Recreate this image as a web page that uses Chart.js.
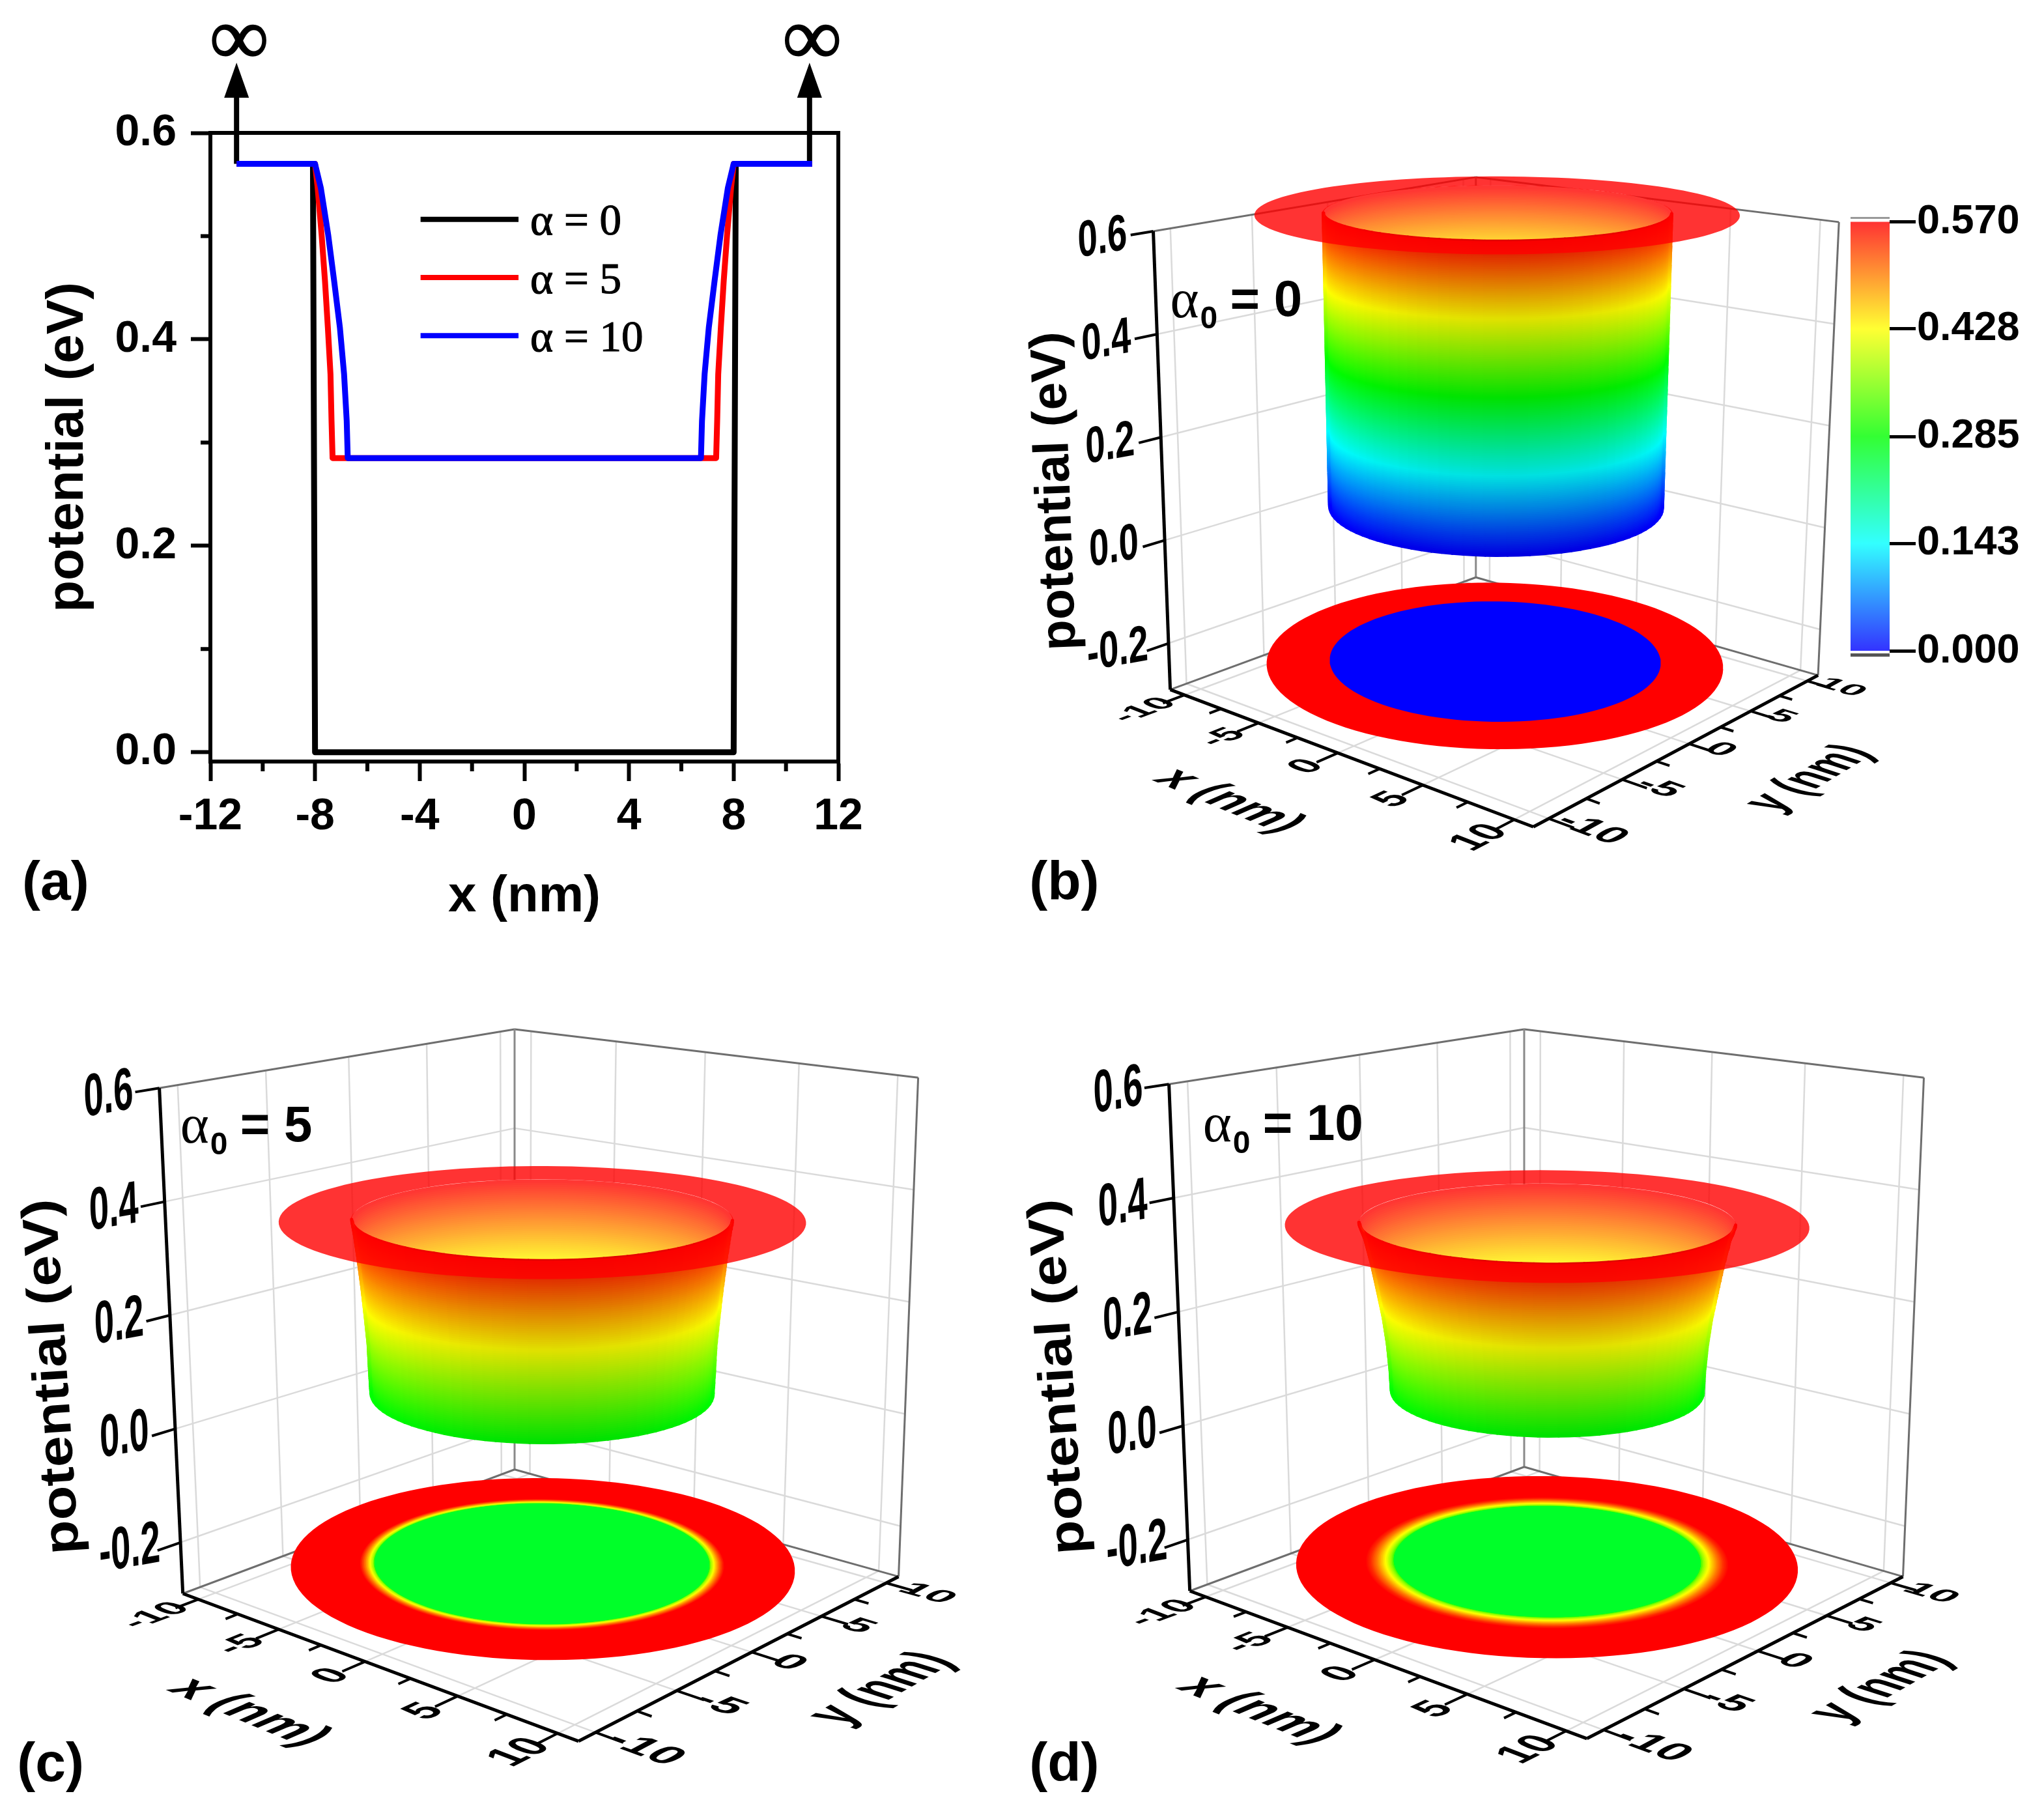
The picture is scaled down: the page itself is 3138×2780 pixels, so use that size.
<!DOCTYPE html>
<html>
<head>
<meta charset="utf-8">
<title>potential</title>
<script src="https://cdn.jsdelivr.net/npm/chart.js@4"></script>
<style>
  html, body { margin: 0; background: #fff; }
  canvas { position: absolute; left: 0; top: 0; }
</style>
</head>
<body>
<canvas id="chart-a" width="3138" height="2780"></canvas>
<canvas id="chart-b" width="3138" height="2780"></canvas>
<canvas id="chart-c" width="3138" height="2780"></canvas>
<canvas id="chart-d" width="3138" height="2780"></canvas>
<canvas id="chart-bar" width="3138" height="2780"></canvas>
<script>
'use strict'

// values
const xTicksA = [-12, -8, -4, 0, 4, 8, 12];
const xMinorA = [-10, -6, -2, 2, 6, 10];
const yTicksA = [0, 0.2, 0.4, 0.6];
const yMinorA = [0.1, 0.3, 0.5];
const wellEdge = 11;
const arrowX = [-11, 10.9];
const potentialTop = 0.57;
const arrowBase = 0.634;
const arrowTip = 0.668;

// wall of the well: radius (nm) at each potential (eV)
const wallV = [0.57, 0.5468, 0.5016, 0.4565, 0.4114, 0.3662, 0.3211, 0.285];
const radius5 = [8.0, 7.9, 7.75, 7.62, 7.51, 7.41, 7.37, 7.33];
const radius10 = [8.0, 7.78, 7.5, 7.27, 7.05, 6.89, 6.79, 6.75];
const wall0V = [0.57, 0];
const radius0 = [8.08, 8.0];

const legendLabels = ['α = 0', 'α = 5', 'α = 10'];
const lineColors = ['#000000', '#ff0000', '#0000ff'];

const barTicks = [0, 0.143, 0.285, 0.428, 0.57];
const barColors = [[0, 0, 255], [0, 255, 255], [0, 255, 0], [255, 255, 0], [255, 0, 0]];

const xyTicks = [-10, -5, 0, 5, 10];
const xyMinor = [-7.5, -2.5, 2.5, 7.5];
const zTicks = [-0.2, 0, 0.2, 0.4, 0.6];

const S = 3138 / 1565;
const SANS = '"Liberation Sans", Arial, sans-serif';
const SERIF = '"Liberation Serif", "Times New Roman", serif';

// cube corners on the page, order: left, front, right, back
const panels = [
  {
    id: 'chart-b', tag: '(b)', tagAt: [813, 677], radius: radius0, levels: wall0V, zOff: 0, floorZ: -0.24,
    bottom: [[896, 528], [1174, 633], [1392, 517], [1130, 442]],
    top: [[883, 177], [1178, 225], [1408, 170], [1130, 135.6]],
    alpha: '0', alphaAt: [896, 232], title: [[813, 498], [804, 254]],
    yTitle: [17, 0.4], zScale: 1.15, yTickGap: 1.4, yTickShift: 0.38, dx: -3.5, lift: 0.06, gain: 1, wallScale: 0.97
  },
  {
    id: 'chart-c', tag: '(c)', tagAt: [38, 1352], radius: radius5, levels: wallV, zOff: 0.285, floorZ: -0.245,
    bottom: [[140, 1220], [443, 1333], [688, 1207], [394, 1125]],
    top: [[122, 833], [443.5, 882], [703, 825], [394, 788]],
    alpha: '5', alphaAt: [138, 864], title: [[50, 1190], [32, 918]],
    yTitle: [16.8, 0.4], zScale: 1.35, yTickGap: 1.7, yTickShift: 0.1, dx: -0.5, lift: 0.055, gain: 1.077, wallScale: 0.985
  },
  {
    id: 'chart-d', tag: '(d)', tagAt: [813, 1352], radius: radius10, levels: wallV, zOff: 0.285, floorZ: -0.245,
    bottom: [[911, 1218], [1215, 1331], [1457, 1207], [1167, 1123]],
    top: [[895, 830], [1215.5, 880], [1473, 825], [1167, 788]],
    alpha: '10', alphaAt: [921, 863], title: [[820, 1190], [802, 918]],
    yTitle: [16.7, 0.35], zScale: 1.35, yTickGap: 1.7, yTickShift: 0.15, dx: -3, lift: 0.055, gain: 1.042, wallScale: 0.98
  }
];

const Z_BOTTOM = -0.29;
const Z_TOP = 0.6;
const BOX = 11;
const FLOOR_SCALE = 0.984;
const DISC_SCALE = 0.99;

function colorAt(v) {
  let i = 0;
  while (i < barTicks.length - 2 && v > barTicks[i + 1]) i++;
  let f = (v - barTicks[i]) / (barTicks[i + 1] - barTicks[i]);
  f = Math.max(0, Math.min(1, f));
  return barColors[i].map((a, k) => Math.round(a + (barColors[i + 1][k] - a) * f));
}

function rgb(c) {
  return `rgb(${c[0]},${c[1]},${c[2]})`;
}

// radius on the wall at potential v
function radiusAt(panel, v) {
  let lv = panel.levels, r = panel.radius;
  for (let i = 0; i < lv.length - 1; i++) {
    if (v <= lv[i] && v >= lv[i + 1]) {
      return r[i] + (r[i + 1] - r[i]) * (lv[i] - v) / (lv[i] - lv[i + 1]);
    }
  }
  return r[r.length - 1];
}

// potential on the wall at radius rr
function valueAt(panel, rr) {
  let lv = panel.levels, r = panel.radius;
  for (let i = 0; i < r.length - 1; i++) {
    if (rr <= r[i] && rr >= r[i + 1]) {
      return lv[i] + (lv[i + 1] - lv[i]) * (r[i] - rr) / (r[i] - r[i + 1]);
    }
  }
  return lv[lv.length - 1];
}

// height of a surface point inside the cube
function surfaceZ(panel, v) {
  return (v - panel.zOff) * panel.gain + panel.lift;
}

// world (nm, nm, eV) to page pixels
function project(panel, x, y, z) {
  let t = (z - Z_BOTTOM) / (Z_TOP - Z_BOTTOM);
  let q = panel.bottom.map((b, i) => [
    (b[0] + (panel.top[i][0] - b[0]) * t) * S,
    (b[1] + (panel.top[i][1] - b[1]) * t) * S
  ]);
  let u = (x + BOX) / (2 * BOX), v = (y + BOX) / (2 * BOX);
  let dx1 = q[1][0] - q[2][0], dx2 = q[3][0] - q[2][0], sx = q[0][0] - q[1][0] + q[2][0] - q[3][0];
  let dy1 = q[1][1] - q[2][1], dy2 = q[3][1] - q[2][1], sy = q[0][1] - q[1][1] + q[2][1] - q[3][1];
  let den = dx1 * dy2 - dx2 * dy1;
  let g = (sx * dy2 - dx2 * sy) / den, h = (dx1 * sy - sx * dy1) / den;
  let w = g * u + h * v + 1;
  return {
    x: ((q[1][0] - q[0][0] + g * q[1][0]) * u + (q[3][0] - q[0][0] + h * q[3][0]) * v + q[0][0]) / w,
    y: ((q[1][1] - q[0][1] + g * q[1][1]) * u + (q[3][1] - q[0][1] + h * q[3][1]) * v + q[0][1]) / w
  };
}

function ring(panel, r, z, from, to, n) {
  let pts = [];
  for (let i = 0; i <= n; i++) {
    let a = (from + (to - from) * i / n) * Math.PI / 180;
    let p = project(panel, r * Math.cos(a), r * Math.sin(a), z);
    pts.push({ x: p.x + panel.dx * S, y: p.y });
  }
  return pts;
}

// angles (deg) of the left and right tips of a ring on the page
function tips(panel, r, z) {
  let left = 225, right = 45, minX = Infinity, maxX = -Infinity;
  for (let a = 180; a <= 300; a++) {
    let p = project(panel, r * Math.cos(a * Math.PI / 180), r * Math.sin(a * Math.PI / 180), z);
    if (p.x < minX) { minX = p.x; left = a; }
  }
  for (let a = -30; a <= 90; a++) {
    let p = project(panel, r * Math.cos(a * Math.PI / 180), r * Math.sin(a * Math.PI / 180), z);
    if (p.x > maxX) { maxX = p.x; right = a; }
  }
  return [left, right];
}

function stroke(pts, color, width, extra) {
  return Object.assign({
    data: pts, showLine: true, pointRadius: 0, borderColor: color, borderWidth: width,
    borderCapStyle: 'butt', borderJoinStyle: 'round', fill: false
  }, extra || {});
}

function filled(pts, color) {
  return {
    data: pts, showLine: true, pointRadius: 0, borderWidth: 0, borderColor: 'rgba(0,0,0,0)',
    backgroundColor: color, fill: 'shape'
  };
}

function panelDatasets(panel) {
  let out = [];
  let seg = (a, b, color, width) => out.push(stroke([
    project(panel, a[0], a[1], a[2]), project(panel, b[0], b[1], b[2])], color, width));
  const GRID = '#dadada', EDGE = '#6e6e6e';

  // back walls and floor grid
  for (let v of xyTicks) {
    seg([-BOX, v, Z_BOTTOM], [-BOX, v, Z_TOP], GRID, 2.5);
    seg([v, BOX, Z_BOTTOM], [v, BOX, Z_TOP], GRID, 2.5);
    seg([v, -BOX, Z_BOTTOM], [v, BOX, Z_BOTTOM], GRID, 2.5);
    seg([-BOX, v, Z_BOTTOM], [BOX, v, Z_BOTTOM], GRID, 2.5);
  }
  for (let z of zTicks) {
    if (z === 0.6) continue;
    seg([-BOX, -BOX, z], [-BOX, BOX, z], GRID, 2.5);
    seg([-BOX, BOX, z], [BOX, BOX, z], GRID, 2.5);
  }
  seg([-BOX, -BOX, Z_TOP], [-BOX, BOX, Z_TOP], EDGE, 3);
  seg([-BOX, BOX, Z_TOP], [BOX, BOX, Z_TOP], EDGE, 3);
  seg([-BOX, BOX, Z_BOTTOM], [-BOX, BOX, Z_TOP], '#8a8a8a', 3);
  seg([BOX, BOX, Z_BOTTOM], [BOX, BOX, Z_TOP], EDGE, 3);
  seg([-BOX, -BOX, Z_BOTTOM], [-BOX, BOX, Z_BOTTOM], EDGE, 3);
  seg([-BOX, BOX, Z_BOTTOM], [BOX, BOX, Z_BOTTOM], EDGE, 3);

  // flat map on the floor
  let rTop = panel.radius[0], rLow = panel.radius[panel.radius.length - 1];
  let lowV = panel.levels[panel.levels.length - 1];
  out.push(filled(ring(panel, BOX * FLOOR_SCALE, panel.floorZ, 0, 360, 120), 'rgb(255,0,0)'));
  if (rTop - rLow > 0.2) {
    let steps = Math.round((rTop - rLow) * 24);
    for (let i = 0; i <= steps; i++) {
      let r = rTop - (rTop - rLow) * i / steps;
      out.push(filled(ring(panel, r * FLOOR_SCALE, panel.floorZ, 0, 360, 120), rgb(colorAt(valueAt(panel, r)))));
    }
  }
  out.push(filled(ring(panel, rLow * FLOOR_SCALE, panel.floorZ, 0, 360, 120), rgb(colorAt(lowV === 0 ? 0 : 0.262))));

  // wall, far side seen through the opening, then the near side
  let nRings = Math.round((potentialTop - lowV) * 300);
  for (let i = nRings; i >= 0; i--) {
    let v = potentialTop - 0.003 - (potentialTop - 0.003 - lowV) * i / nRings;
    let pale = colorAt(v).map(c => Math.round(c * 0.8 + 255 * 0.2));
    let r = radiusAt(panel, v) * panel.wallScale, z = surfaceZ(panel, v);
    let t = tips(panel, r, z);
    out.push(stroke(ring(panel, r, z, t[1], t[0], 60), rgb(pale), 5));
  }
  for (let i = 0; i <= nRings; i++) {
    let v = potentialTop - (potentialTop - lowV) * i / nRings;
    let base = colorAt(v);
    let r = radiusAt(panel, v) * panel.wallScale, z = surfaceZ(panel, v);
    let t = tips(panel, r, z);
    let nPts = 48, from = t[0], to = t[1] + 360;
    let shade = [];
    for (let k = 0; k <= nPts; k++) {
      let a = (from + (to - from) * k / nPts - 315) * Math.PI / 180;
      let f = 1 - 0.12 * Math.pow(Math.max(0, Math.cos(a)), 2);
      shade.push(rgb(base.map(c => Math.round(c * f))));
    }
    out.push(stroke(ring(panel, r, z, from, to, nPts), shade[0], 5, {
      borderCapStyle: 'round',
      segment: { borderColor: ctx => shade[ctx.p0DataIndex] }
    }));
  }

  // see-through flat rim at the top of the well
  let zRim = surfaceZ(panel, potentialTop);
  let rim = ring(panel, BOX * DISC_SCALE, zRim, 0, 360, 120).concat(ring(panel, rTop * panel.wallScale, zRim, 360, 0, 120));
  out.push(filled(rim, 'rgba(255,0,0,0.8)'));

  // axes
  seg([-BOX, -BOX, Z_BOTTOM], [-BOX, -BOX, Z_TOP], '#000', 5);
  seg([-BOX, -BOX, Z_BOTTOM], [BOX, -BOX, Z_BOTTOM], '#000', 5);
  seg([BOX, -BOX, Z_BOTTOM], [BOX, BOX, Z_BOTTOM], '#000', 5);
  for (let v of xyTicks) {
    seg([v, -BOX, Z_BOTTOM], [v, -BOX - 1.3, Z_BOTTOM], '#000', 4);
    seg([BOX, v, Z_BOTTOM], [BOX + 1.3, v, Z_BOTTOM], '#000', 4);
  }
  for (let v of xyMinor) {
    seg([v, -BOX, Z_BOTTOM], [v, -BOX - 0.7, Z_BOTTOM], '#000', 4);
    seg([BOX, v, Z_BOTTOM], [BOX + 0.7, v, Z_BOTTOM], '#000', 4);
  }
  for (let z of zTicks) seg([-BOX, -BOX, z], [-BOX, -BOX - 1.3, z], '#000', 4);

  return out.reverse(); // chart.js paints the first dataset last
}

function planeText(ctx, panel, text, at, base, down, em) {
  let p = project(panel, at[0], at[1], Z_BOTTOM);
  let b0 = project(panel, at[0] + base[0] / 2, at[1] + base[1] / 2, Z_BOTTOM);
  let b1 = project(panel, at[0] - base[0] / 2, at[1] - base[1] / 2, Z_BOTTOM);
  let d0 = project(panel, at[0] + down[0] / 2, at[1] + down[1] / 2, Z_BOTTOM);
  let d1 = project(panel, at[0] - down[0] / 2, at[1] - down[1] / 2, Z_BOTTOM);
  let k = em / 100;
  ctx.save();
  ctx.setTransform((b0.x - b1.x) * k, (b0.y - b1.y) * k, (d0.x - d1.x) * k, (d0.y - d1.y) * k, p.x, p.y);
  ctx.font = 'bold 100px ' + SANS;
  ctx.textAlign = 'center';
  ctx.textBaseline = 'middle';
  ctx.fillStyle = '#000';
  ctx.fillText(text, 0, 0);
  ctx.restore();
}

function panelText(panel) {
  return {
    id: 'panelText',
    afterDatasetsDraw(chart) {
      let ctx = chart.ctx;
      // x and y tick labels lie flat on the floor plane
      for (let v of xyTicks) {
        let extra = (String(v).length - 1) * 0.25;
        planeText(ctx, panel, String(v), [v, -BOX - 1.9 - extra], [0, 1], [1, 0], 2.1);
        planeText(ctx, panel, String(v), [BOX + panel.yTickGap + extra, v + panel.yTickShift], [1, 0], [0, -1], 2.1);
      }
      planeText(ctx, panel, 'x (nm)', [0.05, -17.4], [1, 0], [0, -1], 2.6);
      planeText(ctx, panel, 'y (nm)', panel.yTitle, [0, 1], [1, 0], 2.7);

      ctx.fillStyle = '#000';
      ctx.textAlign = 'center';
      ctx.textBaseline = 'middle';
      // potential ticks
      for (let z of zTicks) {
        let p = project(panel, -BOX, -BOX, z);
        ctx.save();
        ctx.setTransform(0.8, -0.14, 0.04, panel.zScale, p.x - 78, p.y + 12);
        ctx.font = 'bold 68px ' + SANS;
        ctx.fillText(z.toFixed(1), 0, 0);
        ctx.restore();
      }
      // rotated axis title
      let a = panel.title[0], b = panel.title[1];
      let len = Math.hypot(b[0] - a[0], b[1] - a[1]);
      ctx.save();
      ctx.font = 'bold 100px ' + SANS;
      let k = len * S / ctx.measureText('potential (eV)').width;
      let ux = (b[0] - a[0]) / len, uy = (b[1] - a[1]) / len;
      ctx.setTransform(ux * k, uy * k, -uy * 0.76, ux * 0.76, (a[0] + b[0]) / 2 * S, (a[1] + b[1]) / 2 * S);
      ctx.fillText('potential (eV)', 0, 0);
      ctx.restore();

      // panel tag
      ctx.font = 'bold 84px ' + SANS;
      ctx.textAlign = 'left';
      ctx.fillText(panel.tag, panel.tagAt[0] * S - 50, panel.tagAt[1] * S);

      // alpha label
      let ax = panel.alphaAt[0] * S, ay = panel.alphaAt[1] * S;
      ctx.font = '84px ' + SERIF;
      ctx.fillText('α', ax, ay);
      ctx.font = 'bold 48px ' + SANS;
      ctx.fillText('0', ax + 46, ay + 26);
      ctx.font = 'bold 78px ' + SANS;
      ctx.fillText('= ' + panel.alpha, ax + 92, ay - 2);
    }
  };
}

function makePanel(panel) {
  new Chart(document.getElementById(panel.id), {
    type: 'scatter',
    data: { datasets: panelDatasets(panel) },
    options: {
      responsive: false, animation: false, devicePixelRatio: 1, events: [],
      layout: { padding: 0 },
      plugins: { legend: { display: false }, tooltip: { enabled: false } },
      scales: {
        x: { display: false, min: 0, max: 3138 },
        y: { display: false, min: 0, max: 2780, reverse: true }
      }
    },
    plugins: [panelText(panel)]
  });
}

// panel (a)
function mirrored(radius, levels) {
  let left = [{ x: -wellEdge, y: potentialTop }];
  let right = [{ x: wellEdge, y: potentialTop }];
  radius.forEach((r, i) => {
    left.push({ x: -r, y: levels[i] });
    right.unshift({ x: r, y: levels[i] });
  });
  return left.concat(right);
}

const arrowPlugin = {
  id: 'arrowPlugin',
  afterDatasetsDraw(chart) {
    let ctx = chart.ctx, xs = chart.scales.x, ys = chart.scales.y, area = chart.chartArea;
    ctx.save();
    ctx.strokeStyle = '#000';
    ctx.lineWidth = 6;
    ctx.strokeRect(area.left, area.top, area.right - area.left, area.bottom - area.top);
    // short ticks between the labelled ones
    for (let v of xMinorA) {
      let px = xs.getPixelForValue(v);
      ctx.beginPath(); ctx.moveTo(px, area.bottom); ctx.lineTo(px, area.bottom + 15); ctx.stroke();
    }
    for (let v of yMinorA) {
      let py = ys.getPixelForValue(v);
      ctx.beginPath(); ctx.moveTo(area.left, py); ctx.lineTo(area.left - 15, py); ctx.stroke();
    }
    // arrow heads and infinity signs
    ctx.fillStyle = '#000';
    for (let x of arrowX) {
      let px = xs.getPixelForValue(x);
      ctx.beginPath();
      ctx.moveTo(px, ys.getPixelForValue(arrowTip));
      ctx.lineTo(px - 19, ys.getPixelForValue(arrowBase));
      ctx.lineTo(px + 19, ys.getPixelForValue(arrowBase));
      ctx.closePath();
      ctx.fill();
      ctx.font = 'bold 124px ' + SERIF;
      ctx.textAlign = 'center';
      ctx.textBaseline = 'middle';
      ctx.lineWidth = 2;
      ctx.fillText('∞', px + 4, 66);
      ctx.strokeText('∞', px + 4, 66);
    }
    // legend inside the plot
    legendLabels.forEach((label, i) => {
      let py = (168 + i * 44.5) * S;
      ctx.strokeStyle = lineColors[i];
      ctx.lineWidth = 8;
      ctx.beginPath(); ctx.moveTo(322 * S, py); ctx.lineTo(397 * S, py); ctx.stroke();
      ctx.fillStyle = '#000';
      ctx.strokeStyle = '#000';
      ctx.lineWidth = 1.2;
      ctx.font = '67px ' + SERIF;
      ctx.textAlign = 'left';
      ctx.fillText(label, 406 * S, py + 6);
      ctx.strokeText(label, 406 * S, py + 6);
    });
    ctx.fillStyle = '#000';
    ctx.font = 'bold 84px ' + SANS;
    ctx.fillText('(a)', 34, 677 * S);
    ctx.restore();
  }
};

new Chart(document.getElementById('chart-a'), {
  type: 'line',
  data: {
    datasets: [
      { label: legendLabels[2], data: mirrored(radius10, wallV), borderColor: lineColors[2], order: 1 },
      { label: legendLabels[1], data: mirrored(radius5, wallV), borderColor: lineColors[1], order: 2 },
      {
        label: legendLabels[0],
        data: [
          { x: -wellEdge, y: potentialTop }, { x: -8.08, y: potentialTop }, { x: -8, y: 0 },
          { x: 8, y: 0 }, { x: 8.08, y: potentialTop }, { x: wellEdge, y: potentialTop }
        ],
        borderColor: lineColors[0], order: 3
      },
      { label: 'left arrow', data: [{ x: arrowX[0], y: potentialTop }, { x: arrowX[0], y: arrowBase }], borderColor: '#000', order: 4, borderWidth: 8 },
      { label: 'right arrow', data: [{ x: arrowX[1], y: potentialTop }, { x: arrowX[1], y: arrowBase }], borderColor: '#000', order: 4, borderWidth: 8 }
    ]
  },
  options: {
    responsive: false, animation: false, devicePixelRatio: 1, events: [],
    layout: { padding: { left: 53, top: 204, right: 3138 - 1287, bottom: 2780 - 1428 } },
    datasets: { line: { borderWidth: 9, pointRadius: 0, clip: false, tension: 0, fill: false, borderJoinStyle: 'round' } },
    plugins: { legend: { display: false }, tooltip: { enabled: false } },
    scales: {
      x: {
        type: 'linear', min: -12, max: 12,
        afterBuildTicks: s => { s.ticks = xTicksA.map(v => ({ value: v })); },
        afterFit: s => { s.height = 259; },
        grid: { drawOnChartArea: false, tickLength: 30, tickWidth: 6, tickColor: '#000' },
        border: { display: true, color: '#000', width: 6 },
        ticks: { color: '#000', padding: 14, maxRotation: 0, font: { family: SANS, weight: 'bold', size: 68 } },
        title: { display: true, text: 'x (nm)', color: '#000', font: { family: SANS, weight: 'bold', size: 78 } }
      },
      y: {
        type: 'linear', min: -0.009, max: 0.6,
        afterBuildTicks: s => { s.ticks = yTicksA.map(v => ({ value: v })); },
        afterFit: s => { s.width = 270; },
        grid: { drawOnChartArea: false, tickLength: 30, tickWidth: 6, tickColor: '#000' },
        border: { display: true, color: '#000', width: 6 },
        ticks: { color: '#000', padding: 22, callback: v => v.toFixed(1), font: { family: SANS, weight: 'bold', size: 68 } },
        title: { display: true, text: 'potential (eV)', color: '#000', font: { family: SANS, weight: 'bold', size: 80 } }
      }
    }
  },
  plugins: [arrowPlugin]
});

panels.forEach(makePanel);

// colour scale beside panel (b)
let barChart = new Chart(document.getElementById('chart-bar'), {
  type: 'bar',
  data: {
    labels: ['potential'],
    datasets: [{
      data: [[barTicks[0], barTicks[barTicks.length - 1]]],
      barPercentage: 1, categoryPercentage: 1, borderWidth: 0, borderSkipped: false,
      backgroundColor: '#888'
    }]
  },
  options: {
    responsive: false, animation: false, devicePixelRatio: 1, events: [],
    layout: { padding: { left: 2841, top: 335, right: 0, bottom: 2780 - 1005 } },
    plugins: {
      legend: { display: false }, tooltip: { enabled: false }
    },
    scales: {
      x: { display: false },
      y: {
        position: 'right', min: -0.005, max: 0.575,
        afterBuildTicks: s => { s.ticks = barTicks.map(v => ({ value: v })); },
        afterFit: s => { s.width = 3138 - 2901; },
        grid: { drawOnChartArea: false, tickLength: 40, tickWidth: 5, tickColor: '#000' },
        border: { display: false },
        ticks: { color: '#000', padding: 2, callback: v => v.toFixed(3), font: { family: SANS, weight: 'bold', size: 63 } }
      }
    }
  },
  plugins: [{
    id: 'barFrame',
    afterDatasetsDraw(chart) {
      let ctx = chart.ctx, area = chart.chartArea;
      ctx.save();
      ctx.fillStyle = '#555';
      ctx.fillRect(area.left, area.bottom - 2, area.right - area.left, 5);
      ctx.fillStyle = '#999';
      ctx.fillRect(area.left, area.top - 2, area.right - area.left, 3);
      ctx.restore();
    }
  }]
});

let barScale = barChart.scales.y;
let barFill = barChart.ctx.createLinearGradient(0, barScale.getPixelForValue(barTicks[0]), 0, barScale.getPixelForValue(barTicks[4]));
barTicks.forEach((t, i) => barFill.addColorStop(t / barTicks[4], `rgba(${barColors[i].join(',')},0.8)`));
barChart.data.datasets[0].backgroundColor = barFill;
barChart.update();
</script>
</body>
</html>
